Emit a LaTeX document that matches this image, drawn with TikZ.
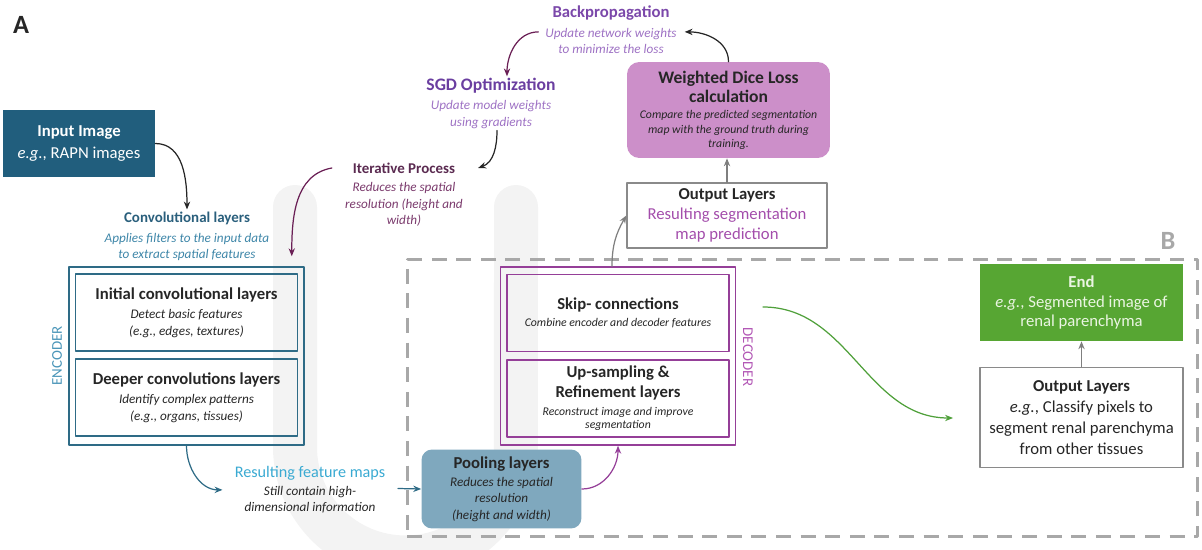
\documentclass[tikz,border=0pt]{standalone}
\usepackage{fontspec}
\setmainfont{Carlito}
\usetikzlibrary{arrows.meta,positioning}
\definecolor{textdark}{HTML}{262626}
\definecolor{inputteal}{HTML}{215E7D}
\definecolor{tealtitle}{HTML}{2A5F7C}
\definecolor{tealnote}{HTML}{3E86A8}
\definecolor{encteal}{HTML}{2E6B86}
\definecolor{enclabel}{HTML}{4A95B8}
\definecolor{featblue}{HTML}{3AAAD2}
\definecolor{poolblue}{HTML}{7FA8BE}
\definecolor{decpurple}{HTML}{953F98}
\definecolor{declabel}{HTML}{B257B5}
\definecolor{outpurple}{HTML}{A34DAB}
\definecolor{dicepink}{HTML}{CC8FC9}
\definecolor{bptitle}{HTML}{7B48AA}
\definecolor{bpnote}{HTML}{9E72C4}
\definecolor{sgdtitle}{HTML}{6A3EA0}
\definecolor{itertitle}{HTML}{5A2A50}
\definecolor{iternote}{HTML}{7B3B6D}
\definecolor{plumarrow}{HTML}{6A1F55}
\definecolor{endgreen}{HTML}{57A633}
\definecolor{endtext}{HTML}{EAF5E2}
\definecolor{greenarrow}{HTML}{4FA03A}
\definecolor{boxgray}{HTML}{8A8A8A}
\definecolor{dashgray}{HTML}{A8A8A8}
\definecolor{arrowgray}{HTML}{7F7F7F}
\definecolor{watermark}{HTML}{F3F3F3}
\newcommand{\ttlfont}{\fontsize{9.5}{11.7}\selectfont\bfseries\upshape}
\newcommand{\bigttl}{\fontsize{10}{12}\selectfont\bfseries\upshape}
\newcommand{\bodyfont}{\fontsize{9.5}{11.2}\selectfont}
\newcommand{\notefont}{\fontsize{7.5}{9.4}\selectfont\itshape}
\newcommand{\tinynote}{\fontsize{6.7}{7.6}\selectfont\itshape}
\newcommand{\dicenote}{\fontsize{6.7}{8.1}\selectfont\itshape}

\begin{document}
\begin{tikzpicture}[x=0.02cm, y=-0.02cm, >={Stealth[length=4.5pt,width=3.6pt]}, line join=round, line cap=round,
  outbox/.style={draw=#1, line width=0.9pt, minimum width=4.7cm, minimum height=3.56cm, inner sep=0pt},
  inbox/.style={draw=#1, line width=0.8pt, minimum width=4.44cm, minimum height=1.54cm, inner sep=0pt, align=center, text=textdark},
  plainbox/.style={draw=boxgray, line width=0.8pt, inner sep=0pt, align=center, text=textdark, font=\bodyfont},
  txt/.style={inner sep=1pt, align=center},
  link/.style={->, line width=0.7pt}]
\useasboundingbox (0,0) rectangle (1202,550);
\draw[watermark, line width=0.88cm] (295,207) -- (295,447) arc[start angle=180, end angle=360, radius=2.21cm] -- (516,207);

\node[font=\fontsize{15}{15}\selectfont\bfseries, text=textdark] (labA) at (21,25) {A};
\node[draw=dashgray, line width=1.7pt, dash pattern=on 8.5pt off 5.5pt, line cap=butt, minimum width=15.82cm, minimum height=5.56cm] (regionB) at (802.5,398) {};
\node[font=\fontsize{15}{15}\selectfont\bfseries, text=dashgray] (labB) at (1168,241) {B};

\node[fill=inputteal, text=white, font=\bodyfont, align=center, minimum width=3.04cm, minimum height=1.36cm, inner sep=0pt] (input) at (79,143.5) {\textbf{Input Image}\\[1pt]\textit{e.g.}, RAPN images};

\node[txt, font=\fontsize{8.5}{10}\selectfont\bfseries, text=tealtitle] (convttl) at (187,218) {Convolutional layers};
\node[txt, font=\notefont, text=tealnote, below=2.5pt of convttl] (convnote) {Applies filters to the input data\\to extract spatial features};

\node[outbox=encteal] (enc) at (186.5,356) {};
\node[inbox=encteal, font=\notefont] (init) at (186.5,312.5) {\ttlfont Initial convolutional layers\\[1.6pt]Detect basic features\\(e.g., edges, textures)};
\node[inbox=encteal, font=\notefont] (deep) at (186.5,397.5) {\ttlfont Deeper convolutions layers\\[1.6pt]Identify complex patterns\\(e.g., organs, tissues)};
\node[rotate=90, text=enclabel, font=\fontsize{8.5}{10}\selectfont] (enclab) at (57,356) {ENCODER};

\node[txt, font=\fontsize{9.2}{11}\selectfont, text=featblue] (featttl) at (310,473) {Resulting feature maps};
\node[txt, font=\notefont, text=textdark, below=1pt of featttl] (featnote) {Still contain high-\\dimensional information};

\node[fill=poolblue, rounded corners=6pt, minimum width=3.2cm, minimum height=1.58cm, inner sep=0pt, align=center, font=\notefont, text=textdark] (pool) at (501.5,489) {\ttlfont Pooling layers\\[0.8pt]Reduces the spatial\\resolution\\(height and width)};

\node[outbox=decpurple] (dec) at (618,356) {};
\node[inbox=decpurple, font=\tinynote] (skip) at (618,313) {\ttlfont Skip- connections\\[2pt]Combine encoder and decoder features};
\node[inbox=decpurple, font=\tinynote] (upsamp) at (618,398.5) {\ttlfont Up-sampling \&\\[2.2pt]\ttlfont Refinement layers\\[2.5pt]Reconstruct image and improve\\segmentation};
\node[rotate=-90, text=declabel, font=\fontsize{8.5}{10}\selectfont] (declab) at (748,357) {DECODER};

\node[plainbox, minimum width=4cm, minimum height=1.3cm] (out1) at (727,215.5) {\textbf{Output Layers}\\\color{outpurple}Resulting segmentation\\\color{outpurple}map prediction};
\node[fill=dicepink, rounded corners=7pt, minimum width=4.06cm, minimum height=1.92cm, inner sep=0pt, align=center, font=\dicenote, text=textdark] (dice) at (728.5,110) {\bigttl Weighted Dice Loss\\[1.5pt]\bigttl calculation\\[1pt]Compare the predicted segmentation\\map with the ground truth during\\training.};

\node[txt, font=\fontsize{9.5}{11}\selectfont\bfseries, text=bptitle] (bpttl) at (611,13) {Backpropagation};
\node[txt, font=\notefont, text=bpnote, below=2pt of bpttl] (bpnote) {Update network weights\\to minimize the loss};
\node[txt, font=\fontsize{10}{12}\selectfont\bfseries, text=sgdtitle] (sgdttl) at (491,86) {SGD Optimization};
\node[txt, font=\notefont, text=bpnote, below=1.5pt of sgdttl] (sgdnote) {Update model weights\\using gradients};
\node[txt, font=\fontsize{8.5}{10}\selectfont\bfseries, text=itertitle] (iterttl) at (404,168) {Iterative Process};
\node[txt, font=\notefont, text=iternote, below=3pt of iterttl] (iternote) {Reduces the spatial\\resolution (height and\\width)};

\node[fill=endgreen, text=endtext, font=\bodyfont, align=center, minimum width=4.06cm, minimum height=1.54cm, inner sep=0pt] (end) at (1081.5,302.5) {\textbf{End}\\\textit{e.g.}, Segmented image of\\renal parenchyma};
\node[plainbox, minimum width=4.06cm, minimum height=2cm, font=\fontsize{9.5}{11.8}\selectfont] (out2) at (1081.5,417.5) {\textbf{Output Layers}\\\textit{e.g.}, Classify pixels to\\segment renal parenchyma\\from other tissues};

\draw[link, textdark] (input.east) to[out=0, in=90] (convttl.north);
\draw[link, encteal] (enc.south) to[out=-90, in=180] ([shift={(-0.4cm,-0.12cm)}]featnote.north west);
\coordinate (featout) at (398,488.5);
\draw[link, encteal] (featout) -- (pool.west);
\draw[link, decpurple] (pool.east) to[out=0, in=-90] (dec.south);
\draw[link, arrowgray] ([xshift=-0.12cm]dec.north) to[out=90, in=240] (out1.west);
\draw[link, arrowgray] (out1.north) -- (out1.north |- dice.south);
\draw[link, textdark] (dice.north) to[out=90, in=0] ([shift={(0.12cm,-0.12cm)}]bpnote.north east);
\draw[link, plumarrow] ([shift={(-0.1cm,-0.12cm)}]bpnote.north west) to[out=180, in=90] ([xshift=0.32cm]sgdttl.north);
\draw[link, textdark] ([xshift=0.12cm]sgdnote.south) to[out=-90, in=20] ([xshift=0.42cm]iterttl.east);
\draw[link, plumarrow] ([xshift=-0.38cm]iterttl.west) to[out=190, in=90] ([shift={(-0.26cm,0.2cm)}]enc.north east);
\coordinate (greenfrom) at (763,307);
\coordinate (greento) at (953,418);
\draw[link, greenarrow] (greenfrom) to[out=0, in=180] (greento);
\draw[link, arrowgray] (out2.north) -- (end.south);
\end{tikzpicture}
\end{document}
